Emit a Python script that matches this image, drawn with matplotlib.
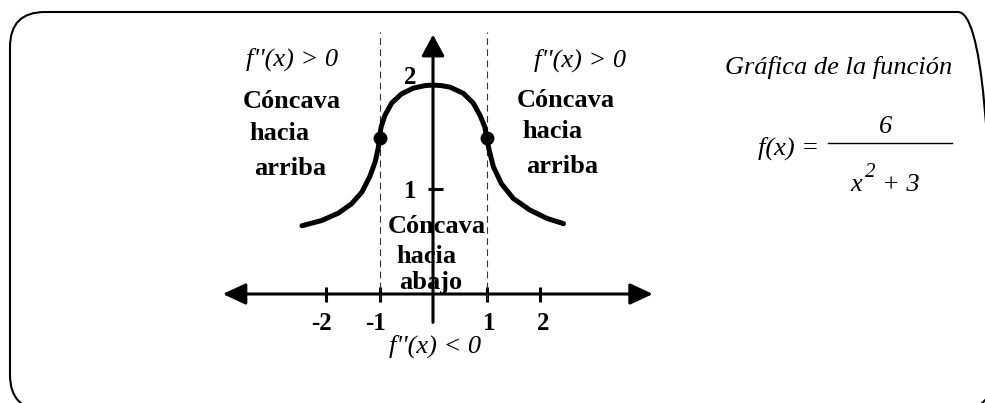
import matplotlib.pyplot as plt
import numpy as np
from matplotlib.patches import FancyBboxPatch, FancyArrowPatch

# curve points (hand-drawn graph of f(x) = 6 / (x^2 + 3))
curve_x = [-2.45, -2.08, -1.77, -1.52, -1.33, -1.18, -1.08, -1.02, -1.0, -0.97, -0.90,
           -0.77, -0.59, -0.37, -0.15, 0.0, 0.15, 0.32, 0.57, 0.75, 0.88, 0.97, 1.0,
           1.05, 1.13, 1.28, 1.50, 1.81, 2.13, 2.44]
curve_y = [0.65, 0.70, 0.77, 0.86, 0.97, 1.12, 1.26, 1.40, 1.49, 1.59, 1.70,
           1.82, 1.905, 1.96, 1.985, 1.99, 1.985, 1.97, 1.91, 1.82, 1.70, 1.59, 1.49,
           1.37, 1.21, 1.05, 0.91, 0.80, 0.72, 0.67]

# inflection points
infl_x = [-1, 1]
infl_y = [1.49, 1.49]

x_ticks = [-2, -1, 1, 2]
x_tick_labels = ['-2', '-1', '1', '2']
y_ticks = [1, 2]
y_tick_labels = ['1', '2']

plt.rcParams['font.family'] = ['Liberation Serif', 'DejaVu Serif']

W, H = 985, 403
fig = plt.figure(figsize=(W / 100, H / 100), dpi=100)

# frame layer (pixel units, y up)
axf = fig.add_axes([0, 0, 1, 1])
axf.set_xlim(0, W)
axf.set_ylim(0, H)
axf.axis('off')
frame = FancyBboxPatch((10, H - 410), 983, 398,
                       boxstyle='round,pad=0,rounding_size=35',
                       fc='none', ec='black', lw=1.5)
axf.add_patch(frame)

# text layer (pixel units, y down)
ax0 = fig.add_axes([0, 0, 1, 1], facecolor='none')
ax0.set_xlim(0, W)
ax0.set_ylim(H, 0)
ax0.axis('off')

# data layer: origin at px (433, 294), 53.5 px per x unit, 105 px per y unit
ox, oy, sx, sy = 433, 294, 53.5, 105
ax = fig.add_axes([0, 0, 1, 1], facecolor='none')
ax.set_xlim(-ox / sx, (W - ox) / sx)
ax.set_ylim((oy - H) / sy, oy / sy)
ax.axis('off')

# axes with arrowheads
ax.add_patch(FancyArrowPatch((-3.93, 0), (4.11, 0), arrowstyle='<|-|>,head_length=14,head_width=6.5',
                             mutation_scale=1, lw=2.2, color='black', shrinkA=0, shrinkB=0))
ax.add_patch(FancyArrowPatch((0, -0.27), (0, 2.47), arrowstyle='-|>,head_length=13,head_width=7',
                             mutation_scale=1, lw=2.2, color='black', shrinkA=0, shrinkB=0))

# ticks
for t in x_ticks:
    ax.plot([t, t], [-0.075, 0.07], color='black', lw=2.2, solid_capstyle='butt')
ax.plot([-0.09, 0.19], [1, 1], color='black', lw=2.2, solid_capstyle='butt')

# dashed guides at inflection points
for v in infl_x:
    ax.plot([v, v], [-0.06, 2.495], color='#333333', lw=0.8, ls=(0, (6, 4)))

# curve and inflection dots
ax.plot(curve_x, curve_y, color='black', lw=3.6, solid_capstyle='round', solid_joinstyle='round')
ax.plot(infl_x, infl_y, 'o', color='black', ms=9)

# tick labels
for t, lab in zip(x_ticks, x_tick_labels):
    ax.text(t - (0.08 if t < 0 else -0.06), -0.34, lab, ha='center', va='baseline',
            fontsize=18, fontweight='bold')
for t, lab in zip(y_ticks, y_tick_labels):
    ax.text(-0.42, t - 0.09 * (t == 1), lab, ha='center', va='baseline',
            fontsize=18, fontweight='bold')

# annotations (pixel coordinates)
bold = dict(fontsize=19, fontweight='bold', ha='center', va='baseline')
ital = dict(fontsize=19, style='italic', ha='center', va='baseline')

ax0.text(292, 66, "f''(x) > 0", **ital)
ax0.text(292, 108, 'Cóncava', **bold)
ax0.text(279, 140, 'hacia', **bold)
ax0.text(290, 175, 'arriba', **bold)

ax0.text(580, 67, "f''(x) > 0", **ital)
ax0.text(566, 107, 'Cóncava', **bold)
ax0.text(552, 138, 'hacia', **bold)
ax0.text(562, 173, 'arriba', **bold)

ax0.text(437, 233, 'Cóncava', **bold)
ax0.text(426, 263, 'hacia', **bold)
ax0.text(431, 289, 'abajo', **bold)
ax0.text(435, 353, "f''(x) < 0", **ital)

ax0.text(839, 74, 'Gráfica de la función', **ital)
ax0.text(789, 155, 'f(x) =', **ital)
ax0.text(886, 133, '6', **ital)
ax0.plot([828, 952], [143, 143], color='black', lw=1)
ax0.text(856, 191, 'x', **ital)
ax0.text(870, 177, '2', fontsize=15, style='italic', ha='center', va='baseline')
ax0.text(901, 191, '+ 3', **ital)

plt.savefig('out.png', dpi=100)
